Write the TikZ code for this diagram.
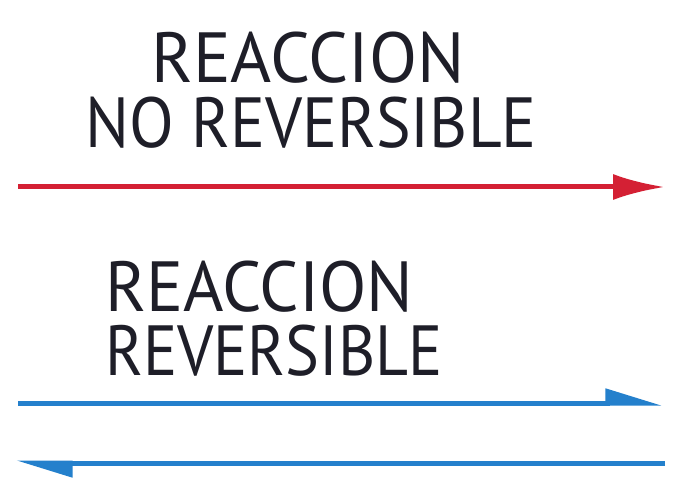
\documentclass[tikz,border=0pt]{standalone}
\usepackage{fontspec}
\setmainfont{PT Sans}
\usetikzlibrary{arrows.meta}
\definecolor{rxred}{RGB}{212,32,52}
\definecolor{rxblue}{RGB}{36,128,204}
\definecolor{rxtext}{RGB}{30,30,40}
\tikzset{
  lbl/.style={inner sep=0pt, outer sep=0pt, text=rxtext, font=\fontsize{71}{71}\selectfont},
  redarrow/.style={draw=rxred, line width=5pt, -{Latex[length=52pt,width=26pt]}},
  bluearrow/.style={draw=rxblue, line width=5pt, -{Triangle[harpoon,length=48pt,width=28pt]}},
}
\begin{document}
\begin{tikzpicture}[x=1pt,y=1pt]
\useasboundingbox (0,0) rectangle (684,501);
\node[lbl, anchor=base, xscale=0.99] (t1) at (308,{501-83}) {REACCION};
\node[lbl, anchor=base, xscale=0.92] (t2) at (311,{501-148}) {NO REVERSIBLE};
\node[lbl, anchor=base west, xscale=0.975] (t3) at (105,{501-311}) {REACCION};
\node[lbl, anchor=base west, xscale=0.90] (t4) at (105,{501-375}) {REVERSIBLE};
\coordinate (r1) at (18,{501-187});
\coordinate (r2) at (665,{501-187});
\draw[redarrow] (r1) -- (r2);
\coordinate (b1) at (18,{501-403});
\coordinate (b2) at (662,{501-403});
\draw[bluearrow] (b1) -- (b2);
\coordinate (c1) at (665,{501-463});
\coordinate (c2) at (16,{501-463});
\draw[bluearrow] (c1) -- (c2);
\end{tikzpicture}
\end{document}
